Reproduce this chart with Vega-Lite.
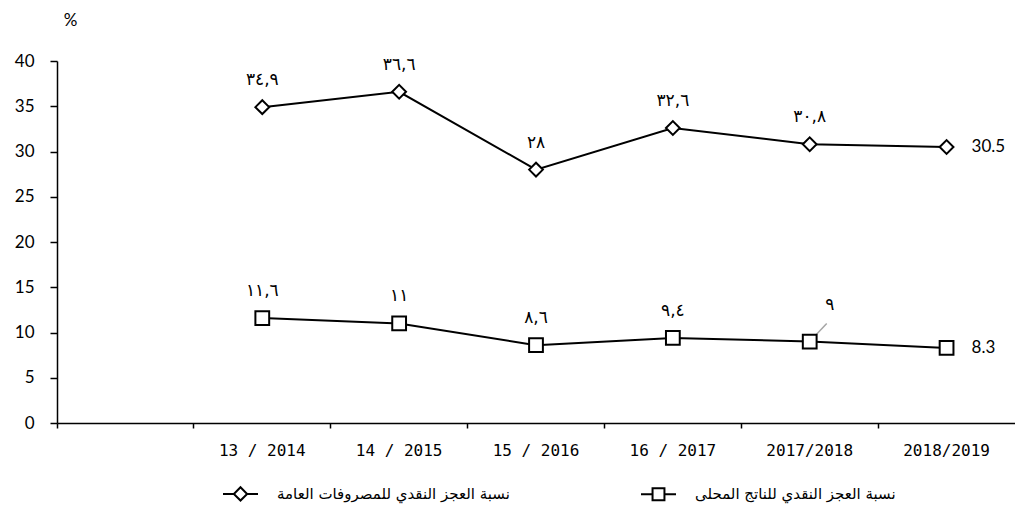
{
  "$schema": "https://vega.github.io/schema/vega-lite/v6.json",
  "width": 958,
  "height": 362,
  "autosize": {"type": "none"},
  "padding": {"left": 57, "top": 61, "right": 0, "bottom": 93},
  "background": "white",
  "config": {
    "view": {"stroke": null},
    "axis": {"domainColor": "black", "tickColor": "black", "domainWidth": 1.5, "tickWidth": 1.5, "grid": false, "labelColor": "black", "titleColor": "black"}
  },
  "data": {
    "values": [
      {"cat": "13 / 2014", "key": "A", "series": "نسبة العجز النقدي للمصروفات العامة", "value": 34.9, "label": "٣٤,٩"},
      {"cat": "14 / 2015", "key": "A", "series": "نسبة العجز النقدي للمصروفات العامة", "value": 36.6, "label": "٣٦,٦"},
      {"cat": "15 / 2016", "key": "A", "series": "نسبة العجز النقدي للمصروفات العامة", "value": 28, "label": "٢٨"},
      {"cat": "16 / 2017", "key": "A", "series": "نسبة العجز النقدي للمصروفات العامة", "value": 32.6, "label": "٣٢,٦"},
      {"cat": "2017/2018", "key": "A", "series": "نسبة العجز النقدي للمصروفات العامة", "value": 30.8, "label": "٣٠,٨"},
      {"cat": "2018/2019", "key": "A", "series": "نسبة العجز النقدي للمصروفات العامة", "value": 30.5, "label": "30.5"},
      {"cat": "13 / 2014", "key": "B", "series": "نسبة العجز النقدي للناتج المحلى", "value": 11.6, "label": "١١,٦"},
      {"cat": "14 / 2015", "key": "B", "series": "نسبة العجز النقدي للناتج المحلى", "value": 11, "label": "١١"},
      {"cat": "15 / 2016", "key": "B", "series": "نسبة العجز النقدي للناتج المحلى", "value": 8.6, "label": "٨,٦"},
      {"cat": "16 / 2017", "key": "B", "series": "نسبة العجز النقدي للناتج المحلى", "value": 9.4, "label": "٩,٤"},
      {"cat": "2017/2018", "key": "B", "series": "نسبة العجز النقدي للناتج المحلى", "value": 9, "label": "٩"},
      {"cat": "2018/2019", "key": "B", "series": "نسبة العجز النقدي للناتج المحلى", "value": 8.3, "label": "8.3"}
    ]
  },
  "encoding": {
    "x": {
      "field": "cat", "type": "nominal", "sort": null,
      "scale": {"type": "band", "domain": ["_", "13 / 2014", "14 / 2015", "15 / 2016", "16 / 2017", "2017/2018", "2018/2019"], "paddingInner": 0, "paddingOuter": 0},
      "axis": {"title": null, "bandPosition": 0, "tickSize": 5, "labelPadding": 14, "labelFont": "DejaVu Sans Mono", "labelFontSize": 16, "labelAngle": 0, "labelOverlap": false, "labelExpr": "datum.value === '_' ? '' : datum.value"}
    },
    "y": {
      "field": "value", "type": "quantitative",
      "scale": {"domain": [0, 40], "nice": false, "zero": true},
      "axis": {"values": [0, 5, 10, 15, 20, 25, 30, 35, 40], "tickSize": 7, "labelPadding": 16, "labelFont": "Lato", "labelFontSize": 17, "title": "%", "titleAngle": 0, "titleX": 13, "titleY": -41, "titleAlign": "center", "titleBaseline": "middle", "titleFont": "Lato", "titleFontSize": 17, "titleFontWeight": "normal"}
    }
  },
  "resolve": {"scale": {"shape": "independent"}, "legend": {"shape": "independent"}},
  "layer": [
    {
      "mark": {"type": "point", "filled": false, "stroke": "black", "strokeWidth": 2, "opacity": 0},
      "encoding": {
        "shape": {
          "field": "series", "type": "nominal",
          "scale": {"domain": ["نسبة العجز النقدي للمصروفات العامة", "نسبة العجز النقدي للناتج المحلى"], "range": ["M-1,0L-0.38,0M0.38,0L1,0M0,-0.38L0.38,0L0,0.38L-0.38,0Z", "M-1,0L-0.34,0M0.34,0L1,0M-0.34,-0.34L0.34,-0.34L0.34,0.34L-0.34,0.34Z"]},
          "legend": {
            "title": null, "orient": "none", "legendX": 165, "legendY": 414, "direction": "horizontal",
            "labelFont": "DejaVu Sans", "labelFontSize": 15, "labelColor": "black", "labelLimit": 400,
            "columnPadding": 127, "symbolSize": 1225, "symbolStrokeWidth": 2, "symbolFillColor": "white", "symbolStrokeColor": "black", "symbolOpacity": 1, "labelOffset": 18, "padding": 0
          }
        }
      }
    },
    {
      "mark": {"type": "line", "color": "black", "strokeWidth": 2},
      "encoding": {"detail": {"field": "key"}}
    },
    {
      "transform": [{"filter": "datum.key === 'B' && datum.cat === '2017/2018'"}],
      "mark": {"type": "rule", "color": "#a6a6a6", "strokeWidth": 1.5, "x2Offset": 17, "y2Offset": -18},
      "encoding": {"x2": {"field": "cat"}, "y2": {"field": "value"}}
    },
    {
      "mark": {"type": "point", "filled": true, "fill": "white", "stroke": "black", "strokeWidth": 2, "size": 190, "opacity": 1},
      "encoding": {
        "shape": {
          "field": "series", "type": "nominal",
          "scale": {"domain": ["نسبة العجز النقدي للمصروفات العامة", "نسبة العجز النقدي للناتج المحلى"], "range": ["diamond", "square"]},
          "legend": null
        }
      }
    },
    {
      "transform": [{"filter": "datum.cat !== '2018/2019' && !(datum.key === 'B' && datum.cat === '2017/2018')"}],
      "mark": {"type": "text", "font": "DejaVu Sans", "fontSize": 17, "dy": -27, "baseline": "middle", "color": "black"},
      "encoding": {"text": {"field": "label"}}
    },
    {
      "transform": [{"filter": "datum.key === 'B' && datum.cat === '2017/2018'"}],
      "mark": {"type": "text", "font": "DejaVu Sans", "fontSize": 17, "dx": 20, "dy": -37, "baseline": "middle", "color": "black"},
      "encoding": {"text": {"field": "label"}}
    },
    {
      "transform": [{"filter": "datum.cat === '2018/2019'"}],
      "mark": {"type": "text", "font": "Lato", "fontSize": 17, "dx": 25, "align": "left", "baseline": "middle", "color": "black"},
      "encoding": {"text": {"field": "label"}}
    }
  ]
}
